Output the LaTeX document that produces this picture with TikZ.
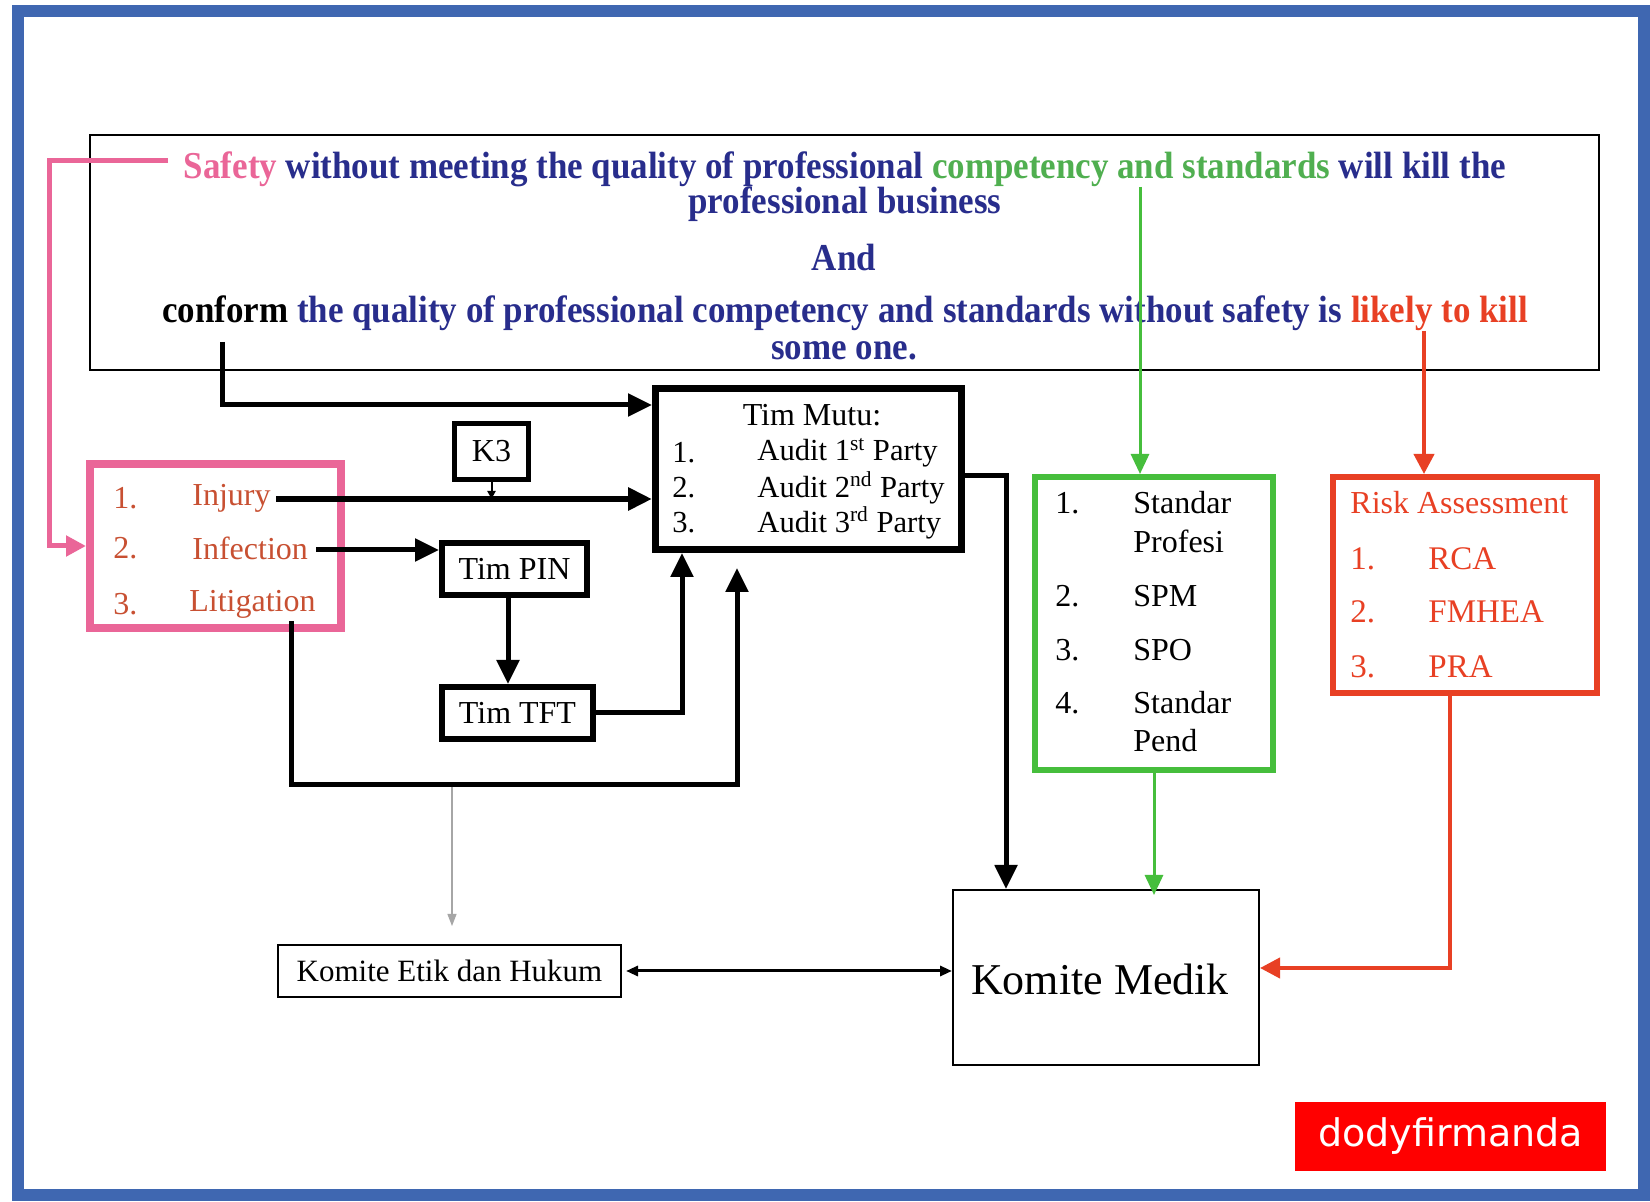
\documentclass[tikz,border=0pt]{standalone}
\usepackage{fontspec}
\setmainfont{Liberation Serif}
\newfontfamily\topfont[FakeStretch=0.92]{Liberation Serif}
\newfontfamily\wmfont{DejaVu Sans}
\usetikzlibrary{arrows.meta}
\definecolor{frameblue}{RGB}{63,103,177}
\definecolor{pinkc}{RGB}{234,102,152}
\definecolor{navyc}{RGB}{40,45,140}
\definecolor{greentxt}{RGB}{80,175,80}
\definecolor{greenc}{RGB}{70,190,60}
\definecolor{redc}{RGB}{232,64,36}
\definecolor{itemc}{RGB}{200,80,50}
\definecolor{wmred}{RGB}{255,0,0}
\tikzset{
  toptxt/.style={inner sep=0pt, text=navyc, font=\topfont\bfseries\fontsize{19}{21}\selectfont},
  txt/.style={inner sep=0pt, font=\fontsize{16}{18}\selectfont},
  ltxt/.style={txt, anchor=west},
  mtxt/.style={ltxt, font=\fontsize{15.3}{18}\selectfont},
  pit/.style={ltxt, text=itemc},
  rit/.style={inner sep=0pt, anchor=west, text=redc, font=\fontsize{16.5}{18}\selectfont},
  boxn/.style={draw, inner sep=0pt},
  blk/.style={draw=black, line width=2.5pt, -{Triangle[length=12pt,width=11pt]}},
  grn/.style={draw=greenc, line width=1.5pt, -{Triangle[length=10pt,width=9pt]}},
  rdl/.style={draw=redc, line width=2pt, -{Triangle[length=10pt,width=10pt]}},
  pnk/.style={draw=pinkc, line width=2.5pt, -{Triangle[length=10pt,width=10pt]}},
}
\begin{document}
\begin{tikzpicture}[x=0.5pt,y=-0.5pt]
\fill[white] (0,0) rectangle (1650,1202);
\useasboundingbox (0,0) rectangle (1650,1202);
\draw[frameblue, line width=6pt] (18,11.5) rectangle (1644,1195);

% top statement box
\node[boxn, line width=1.2pt, minimum width=754.5pt, minimum height=117.5pt] (top) at (844.5,252.5) {};
\node[toptxt] (l1) at (845,169) {\textcolor{pinkc}{Safety} without meeting the quality of professional \textcolor{greentxt}{competency and standards} will kill the};
\node[toptxt] (l2) at (845,204) {professional business};
\node[toptxt] (l3) at (844,258) {And};
\node[toptxt] (l4) at (845,313) {\textcolor{black}{conform} the quality of professional competency and standards without safety is \textcolor{redc}{likely to kill}};
\node[toptxt] (l5) at (844,351) {some one.};

% pink box
\node[boxn, draw=pinkc, line width=4pt, minimum width=125.5pt, minimum height=82pt] (pink) at (215.5,546) {};
\node[pit] (p1n) at (113,498) {1.};
\node[pit] (p1) at (192,498) {Injury};
\node[pit] (p2n) at (113,548) {2.};
\node[pit] (p2) at (192,548) {Infection};
\node[pit] (p3n) at (113,604) {3.};
\node[pit] (p3) at (189,604) {Litigation};

% K3, PIN, TFT
\node[boxn, line width=2.5pt, minimum width=37pt, minimum height=28pt, font=\fontsize{16}{18}\selectfont] (k3) at (491.5,451.5) {K3};
\node[boxn, line width=3pt, minimum width=72.5pt, minimum height=26pt, font=\fontsize{16}{18}\selectfont] (pin) at (514.5,569) {Tim PIN};
\node[boxn, line width=3pt, minimum width=75.5pt, minimum height=26pt, font=\fontsize{16}{18}\selectfont] (tft) at (517.5,713) {Tim TFT};

% Tim Mutu
\node[boxn, line width=3.5pt, minimum width=153pt, minimum height=80.5pt] (mutu) at (808.5,469) {};
\node[txt] (mt) at (812,415) {Tim Mutu:};
\node[mtxt] (m1n) at (672,453) {1.};
\node[mtxt] (m1) at (757,453) {Audit 1\textsuperscript{st} Party};
\node[mtxt] (m2n) at (672,488) {2.};
\node[mtxt] (m2) at (757,488) {Audit 2\textsuperscript{nd} Party};
\node[mtxt] (m3n) at (672,523) {3.};
\node[mtxt] (m3) at (757,523) {Audit 3\textsuperscript{rd} Party};

% green box
\node[boxn, draw=greenc, line width=3pt, minimum width=119pt, minimum height=146.5pt] (green) at (1154,623.5) {};
\node[ltxt] (g1n) at (1055,503) {1.};
\node[ltxt] (g1) at (1133,503) {Standar};
\node[ltxt] (g1b) at (1133,541) {Profesi};
\node[ltxt] (g2n) at (1055,596) {2.};
\node[ltxt] (g2) at (1133,596) {SPM};
\node[ltxt] (g3n) at (1055,650) {3.};
\node[ltxt] (g3) at (1133,650) {SPO};
\node[ltxt] (g4n) at (1055,703) {4.};
\node[ltxt] (g4) at (1133,703) {Standar};
\node[ltxt] (g4b) at (1133,741) {Pend};

% red box
\node[boxn, draw=redc, line width=3pt, minimum width=132pt, minimum height=108pt] (red) at (1465,585) {};
\node[rit, font=\fontsize{16}{18}\selectfont] (rt) at (1350,503) {Risk Assessment};
\node[rit] (r1n) at (1350,559) {1.};
\node[rit] (r1) at (1428,559) {RCA};
\node[rit] (r2n) at (1350,612) {2.};
\node[rit] (r2) at (1428,612) {FMHEA};
\node[rit] (r3n) at (1350,667) {3.};
\node[rit] (r3) at (1428,667) {PRA};

% committees
\node[boxn, line width=1pt, minimum width=171.5pt, minimum height=26pt, font=\fontsize{15.5}{18}\selectfont] (etik) at (449.5,971) {Komite Etik dan Hukum};
\node[boxn, line width=1pt, minimum width=153pt, minimum height=87.5pt] (medik) at (1106,977.5) {};
\node[inner sep=0pt, font=\fontsize{22}{24}\selectfont] (mk) at (1100,979) {Komite Medik};

% watermark
\node[fill=wmred, inner sep=0pt, minimum width=155.5pt, minimum height=34.5pt, text=white, font=\wmfont\fontsize{19}{22}\selectfont] (wm) at (1450.5,1136.5) {dodyfirmanda};

% coordinates for free ends / bends
\coordinate (pstart) at (168,161);
\coordinate (pbend) at (49,161);
\coordinate (conf) at (222,342);
\coordinate (yup) at (0,405);
\coordinate (injs) at (276,499);
\coordinate (infs) at (316,550);
\coordinate (xa1) at (682,0);
\coordinate (lits) at (291,621);
\coordinate (litc) at (737,785);
\coordinate (a2tip) at (737,568);
\coordinate (gtop) at (452,787);
\coordinate (gtip) at (452,926);
\coordinate (a3) at (1006,476);
\coordinate (gs) at (1140,187);
\coordinate (rs) at (1424,331);
\coordinate (rb) at (1450,0);
\coordinate (ry) at (0,968);

% connectors
\draw[pnk] (pstart) -- (pbend) |- (pink.west);
\draw[blk] (conf) |- (mutu.west |- yup);
\draw[blk, line width=3pt] (injs) -- (mutu.west |- injs);
\draw[line width=1pt, -{Triangle[length=4pt,width=4pt]}] (k3.south) -- (k3.south |- injs);
\draw[blk] (infs) -- (pin.west |- infs);
\draw[blk] ([xshift=-3.25pt]pin.south) -- ([xshift=-3.25pt]pin.south |- tft.north);
\draw[blk] (tft.east) -| (xa1 |- mutu.south);
\draw[blk] (lits) |- (litc) -- (a2tip);
\draw[gray!70, line width=0.6pt, -{Triangle[length=6pt,width=4.5pt]}] (gtop) -- (gtip);
\draw[line width=1.5pt, {Triangle[length=6pt,width=5pt]}-{Triangle[length=6pt,width=5pt]}] ([xshift=2pt]etik.east) -- (medik.west |- etik.east);
\draw[blk] (mutu.east |- a3) -| (a3 |- medik.north);
\draw[grn] (gs) -- (gs |- green.north);
\draw[grn] (green.south) -- ([yshift=-3pt]green.south |- medik.north);
\draw[rdl] (rs) -- (rs |- red.north);
\draw[rdl] (rb |- red.south) |- (medik.east |- ry);
\end{tikzpicture}
\end{document}
